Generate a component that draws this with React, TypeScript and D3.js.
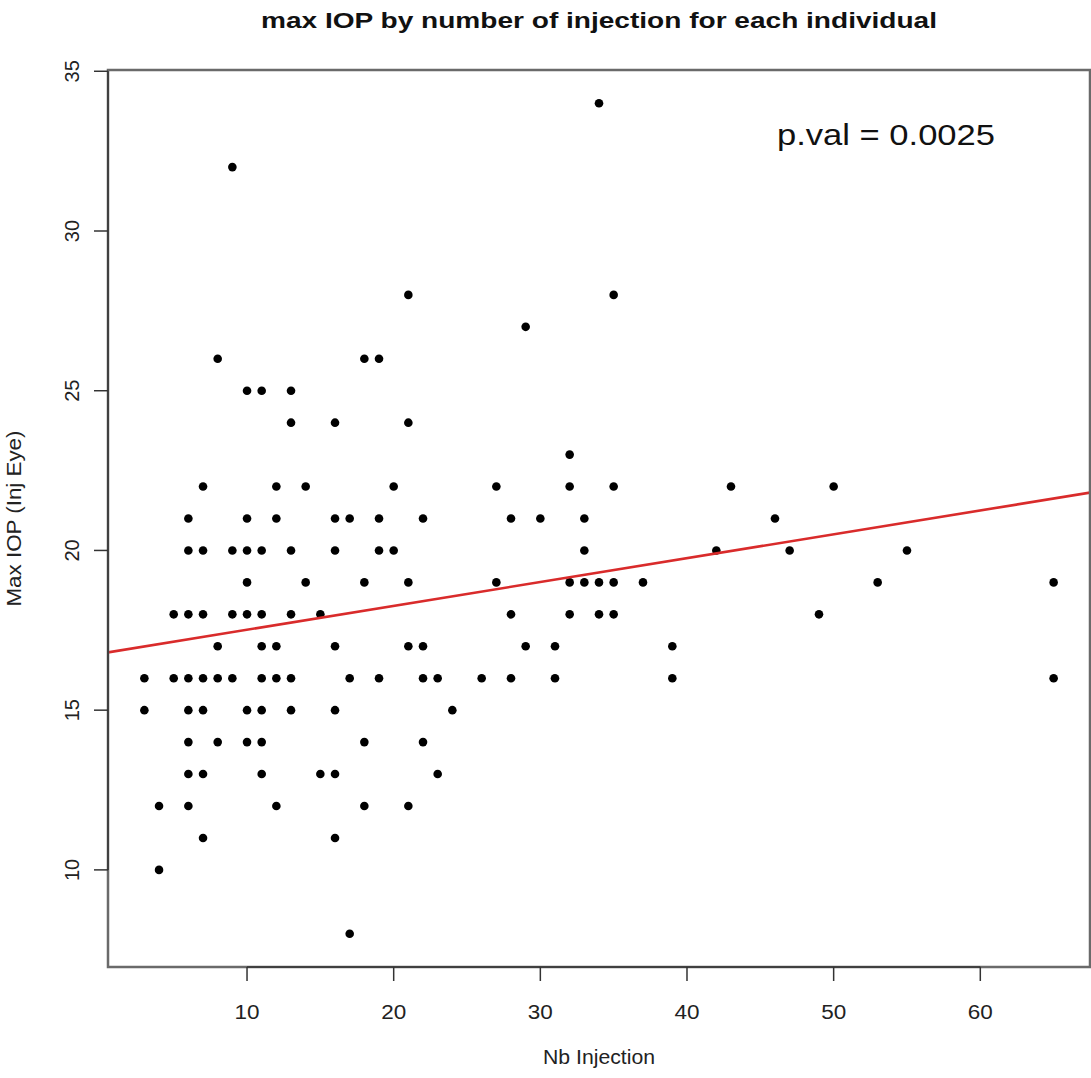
import React, { useRef, useEffect } from 'react';
import * as d3 from 'd3';

// number of injections (x) and max IOP (y) for each individual
const nbInjection = [
  34, 9, 21, 35, 29, 8, 18, 19, 10, 11, 13, 13, 16, 21, 32,
  7, 12, 14, 20, 27, 32, 35, 43, 50,
  6, 10, 12, 16, 17, 19, 22, 28, 30, 33, 46,
  6, 7, 9, 10, 11, 13, 16, 19, 20, 33, 42, 47, 55,
  10, 14, 18, 21, 27, 32, 33, 34, 35, 37, 53, 65,
  5, 6, 7, 9, 10, 11, 13, 15, 28, 32, 34, 35, 49,
  8, 11, 12, 16, 21, 22, 29, 31, 39,
  3, 5, 6, 7, 8, 9, 11, 12, 13, 17, 19, 22, 23, 26, 28, 31, 39, 65,
  3, 6, 7, 10, 11, 13, 16, 24,
  6, 8, 10, 11, 18, 22,
  6, 7, 11, 15, 16, 23,
  4, 6, 12, 18, 21,
  7, 16,
  4,
  17,
]
const maxIOP = [
  34, 32, 28, 28, 27, 26, 26, 26, 25, 25, 25, 24, 24, 24, 23,
  22, 22, 22, 22, 22, 22, 22, 22, 22,
  21, 21, 21, 21, 21, 21, 21, 21, 21, 21, 21,
  20, 20, 20, 20, 20, 20, 20, 20, 20, 20, 20, 20, 20,
  19, 19, 19, 19, 19, 19, 19, 19, 19, 19, 19, 19,
  18, 18, 18, 18, 18, 18, 18, 18, 18, 18, 18, 18, 18,
  17, 17, 17, 17, 17, 17, 17, 17, 17,
  16, 16, 16, 16, 16, 16, 16, 16, 16, 16, 16, 16, 16, 16, 16, 16, 16, 16,
  15, 15, 15, 15, 15, 15, 15, 15,
  14, 14, 14, 14, 14, 14,
  13, 13, 13, 13, 13, 13,
  12, 12, 12, 12, 12,
  11, 11,
  10,
  8,
]
const xTicks = [10, 20, 30, 40, 50, 60]
const yTicks = [10, 15, 20, 25, 30, 35]
// fitted line, as drawn by abline
const fitIntercept = 16.77
const fitSlope = 0.0747
const pValueLabel = 'p.val = 0.0025'

function App() {
  const ref = useRef();
  const outerWidth = 1091, outerHeight = 1078
  const margin = { top: 70, right: 1, bottom: 111, left: 108 }
  const width = outerWidth - margin.left - margin.right,
    height = outerHeight - margin.top - margin.bottom

  useEffect(() => {
    draw();
  }, []);

  const draw = () => {
    const svg = d3.select(ref.current)
    svg.selectAll('*').remove()
    svg.attr('width', outerWidth).attr('height', outerHeight)
      .style('font-family', '"Liberation Sans", Arial, sans-serif')

    const data = nbInjection.map((x, i) => ({ x, y: maxIOP[i] }))

    // R style 4% padding on each side
    const xr = d3.extent(nbInjection), yr = d3.extent(maxIOP)
    const xPad = (xr[1] - xr[0]) * 0.04, yPad = (yr[1] - yr[0]) * 0.04
    const xScale = d3.scaleLinear().domain([xr[0] - xPad, xr[1] + xPad]).range([0, width])
    const yScale = d3.scaleLinear().domain([yr[0] - yPad, yr[1] + yPad]).range([height, 0])

    const plotArea = svg.append('g').attr('transform', 'translate(' + margin.left + ',' + margin.top + ')')

    svg.append('defs').append('clipPath').attr('id', 'plotclip')
      .append('rect').attr('width', width).attr('height', height)

    plotArea.selectAll('circle').data(data).enter().append('circle')
      .attr('cx', (d) => xScale(d.x))
      .attr('cy', (d) => yScale(d.y))
      .attr('r', 4.3)
      .style('fill', '#000')

    const dom = xScale.domain()
    plotArea.append('line')
      .attr('clip-path', 'url(#plotclip)')
      .attr('x1', xScale(dom[0])).attr('y1', yScale(fitIntercept + fitSlope * dom[0]))
      .attr('x2', xScale(dom[1])).attr('y2', yScale(fitIntercept + fitSlope * dom[1]))
      .style('stroke', '#d92b2b')
      .style('stroke-width', 2.6)

    // box
    plotArea.append('rect')
      .attr('width', width).attr('height', height)
      .style('fill', 'none').style('stroke', '#6a6a6a').style('stroke-width', 2.5)

    // x axis
    const xAxis = plotArea.append('g').attr('transform', 'translate(0,' + height + ')')
    xAxis.append('line')
      .attr('x1', xScale(xTicks[0])).attr('x2', xScale(xTicks[xTicks.length - 1]))
      .style('stroke', '#333').style('stroke-width', 1.5)
    const xt = xAxis.selectAll('g.tick').data(xTicks).enter().append('g')
      .attr('class', 'tick').attr('transform', (d) => 'translate(' + xScale(d) + ',0)')
    xt.append('line').attr('y2', 14).style('stroke', '#333').style('stroke-width', 1.5)
    xt.append('text').attr('y', 52).attr('text-anchor', 'middle')
      .attr('textLength', 25).attr('lengthAdjust', 'spacingAndGlyphs')
      .style('font-size', '20px').style('fill', '#222').text((d) => d)

    // y axis
    const yAxis = plotArea.append('g')
    yAxis.append('line')
      .attr('y1', yScale(yTicks[0])).attr('y2', yScale(yTicks[yTicks.length - 1]))
      .style('stroke', '#333').style('stroke-width', 1.5)
    const yt = yAxis.selectAll('g.tick').data(yTicks).enter().append('g')
      .attr('class', 'tick').attr('transform', (d) => 'translate(0,' + yScale(d) + ')')
    yt.append('line').attr('x2', -14).style('stroke', '#333').style('stroke-width', 1.5)
    yt.append('text').attr('transform', 'translate(-29,0) rotate(-90)').attr('text-anchor', 'middle')
      .style('font-size', '20px').style('fill', '#222').text((d) => d)

    // title and labels
    svg.append('text')
      .attr('x', margin.left + width / 2).attr('y', 28)
      .attr('text-anchor', 'middle')
      .attr('textLength', 676).attr('lengthAdjust', 'spacingAndGlyphs')
      .style('font-size', '22px').style('font-weight', 'bold').style('fill', '#111')
      .text('max IOP by number of injection for each individual')

    svg.append('text')
      .attr('x', margin.left + width / 2).attr('y', 1064)
      .attr('text-anchor', 'middle')
      .attr('textLength', 112).attr('lengthAdjust', 'spacingAndGlyphs')
      .style('font-size', '20px').style('fill', '#222')
      .text('Nb Injection')

    svg.append('text')
      .attr('transform', 'translate(21,' + (margin.top + height / 2) + ') rotate(-90)')
      .attr('text-anchor', 'middle')
      .attr('textLength', 176).attr('lengthAdjust', 'spacingAndGlyphs')
      .style('font-size', '20px').style('fill', '#222')
      .text('Max IOP (Inj Eye)')

    svg.append('text')
      .attr('x', 886).attr('y', 145)
      .attr('text-anchor', 'middle')
      .attr('textLength', 218).attr('lengthAdjust', 'spacingAndGlyphs')
      .style('font-size', '29px').style('fill', '#111')
      .text(pValueLabel)
  }

  return (
    <div className="chart" style={{ position: 'absolute', left: 0, top: 0 }}>
      <svg ref={ref} style={{ display: 'block' }}>
      </svg>
    </div>
  )
}

export default App
